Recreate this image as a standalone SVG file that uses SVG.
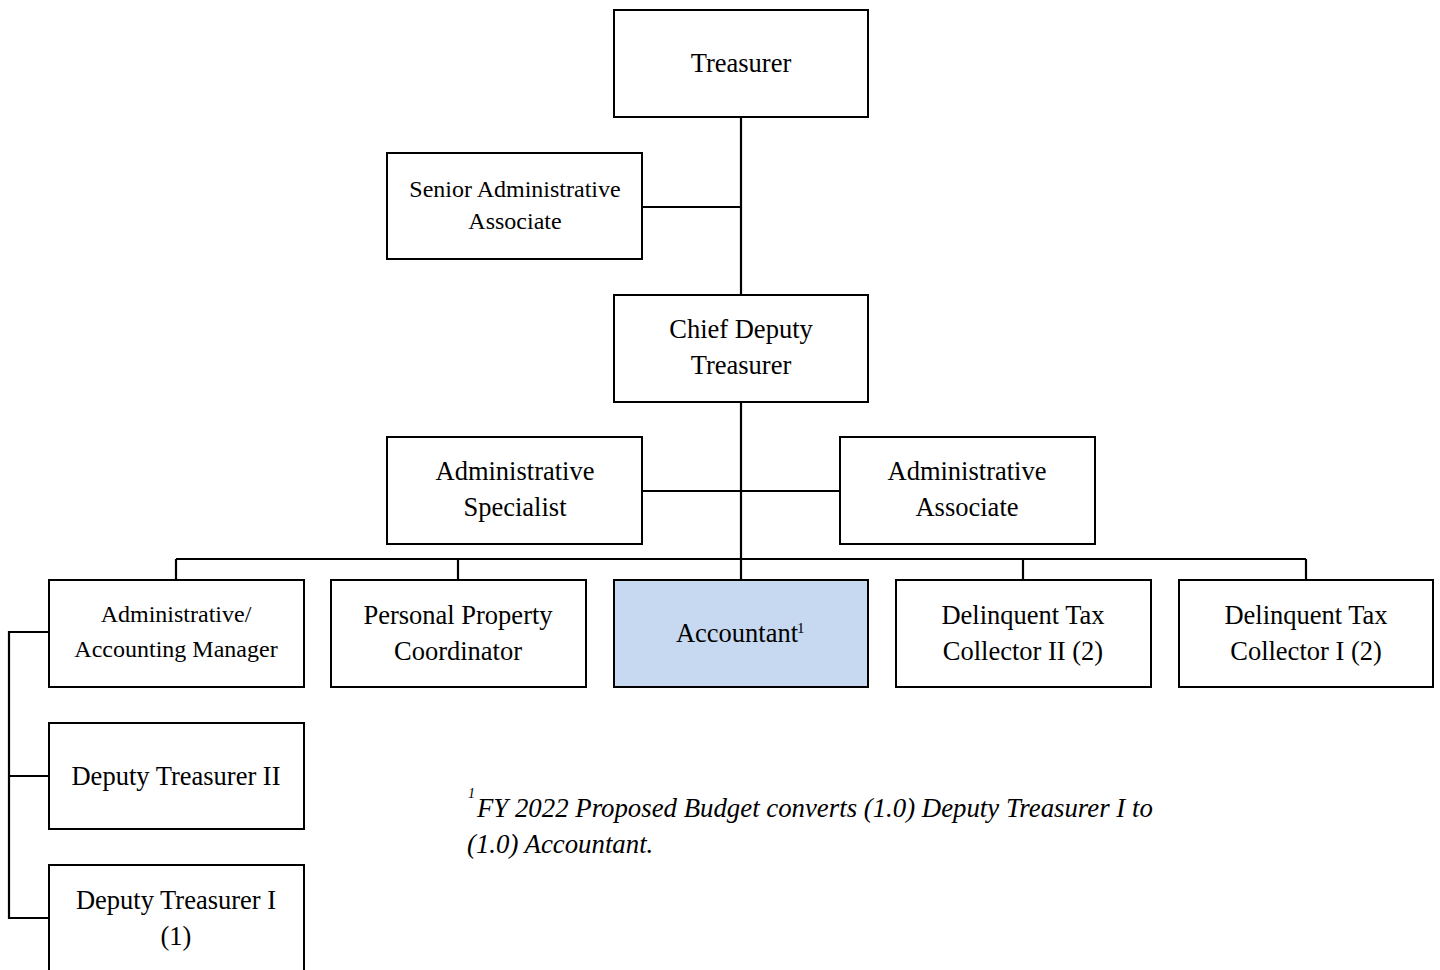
<svg xmlns="http://www.w3.org/2000/svg" width="1440" height="970" viewBox="0 0 1440 970">
  <style>
    .box { fill: #ffffff; stroke: #000000; stroke-width: 2; }
    .hl { fill: #c6d9f1; }
    .lbl { font-family: "Liberation Serif", "Times New Roman", serif; font-size: 26.5px; fill: #000000; text-anchor: middle; }
    .sm { font-size: 24px; }
    .sup { font-family: "Liberation Serif", "Times New Roman", serif; font-size: 15px; fill: #000000; }
    .note { font-family: "Liberation Serif", "Times New Roman", serif; font-style: italic; font-size: 26.8px; fill: #000000; }
    .note-sup { font-size: 14px; }
    .wire { fill: none; stroke: #000000; stroke-width: 2.2; }
  </style>
  <rect width="1440" height="970" fill="#ffffff"/>

  <!-- reporting lines -->
  <g id="connectors">
    <path class="wire" d="M741 117 V580"/>
    <path class="wire" d="M642 207 H741"/>
    <path class="wire" d="M642 491 H840"/>
    <path class="wire" d="M176 559 H1306"/>
    <path class="wire" d="M176 559 V580 M458 559 V580 M1023 559 V580 M1306 559 V580"/>
    <path class="wire" d="M49 632 H9 V918 H49 M9 776 H49"/>
  </g>

  <g id="treasurer">
    <rect class="box" x="614" y="10" width="254" height="107"/>
    <text class="lbl" x="741" y="72">Treasurer</text>
  </g>

  <g id="senior-admin-associate">
    <rect class="box" x="387" y="153" width="255" height="106"/>
    <text class="lbl sm" x="515" y="197">Senior Administrative</text>
    <text class="lbl sm" x="515" y="229">Associate</text>
  </g>

  <g id="chief-deputy">
    <rect class="box" x="614" y="295" width="254" height="107"/>
    <text class="lbl" x="741" y="338">Chief Deputy</text>
    <text class="lbl" x="741" y="374">Treasurer</text>
  </g>

  <g id="admin-specialist">
    <rect class="box" x="387" y="437" width="255" height="107"/>
    <text class="lbl" x="515" y="480">Administrative</text>
    <text class="lbl" x="515" y="516">Specialist</text>
  </g>

  <g id="admin-associate">
    <rect class="box" x="840" y="437" width="255" height="107"/>
    <text class="lbl" x="967" y="480">Administrative</text>
    <text class="lbl" x="967" y="516">Associate</text>
  </g>

  <g id="admin-accounting-manager">
    <rect class="box" x="49" y="580" width="255" height="107"/>
    <text class="lbl sm" x="176" y="622">Administrative/</text>
    <text class="lbl sm" x="176" y="657">Accounting Manager</text>
  </g>

  <g id="personal-property">
    <rect class="box" x="331" y="580" width="255" height="107"/>
    <text class="lbl" x="458" y="624">Personal Property</text>
    <text class="lbl" x="458" y="660">Coordinator</text>
  </g>

  <g id="accountant">
    <rect class="box hl" x="614" y="580" width="254" height="107"/>
    <text class="lbl" x="737" y="642">Accountant</text>
    <text class="sup" x="797" y="633">1</text>
  </g>

  <g id="delinquent-collector-2">
    <rect class="box" x="896" y="580" width="255" height="107"/>
    <text class="lbl" x="1023" y="624">Delinquent Tax</text>
    <text class="lbl" x="1023" y="660">Collector II (2)</text>
  </g>

  <g id="delinquent-collector-1">
    <rect class="box" x="1179" y="580" width="254" height="107"/>
    <text class="lbl" x="1306" y="624">Delinquent Tax</text>
    <text class="lbl" x="1306" y="660">Collector I (2)</text>
  </g>

  <g id="deputy-treasurer-2">
    <rect class="box" x="49" y="723" width="255" height="106"/>
    <text class="lbl" x="176" y="785">Deputy Treasurer II</text>
  </g>

  <g id="deputy-treasurer-1">
    <rect class="box" x="49" y="865" width="255" height="110"/>
    <text class="lbl" x="176" y="909">Deputy Treasurer I</text>
    <text class="lbl" x="176" y="945">(1)</text>
  </g>

  <!-- footnote -->
  <g id="footnote">
    <text class="note note-sup" x="468" y="798">1</text>
    <text class="note" x="477" y="817">FY 2022 Proposed Budget converts (1.0) Deputy Treasurer I to</text>
    <text class="note" x="467" y="853">(1.0) Accountant.</text>
  </g>
</svg>
